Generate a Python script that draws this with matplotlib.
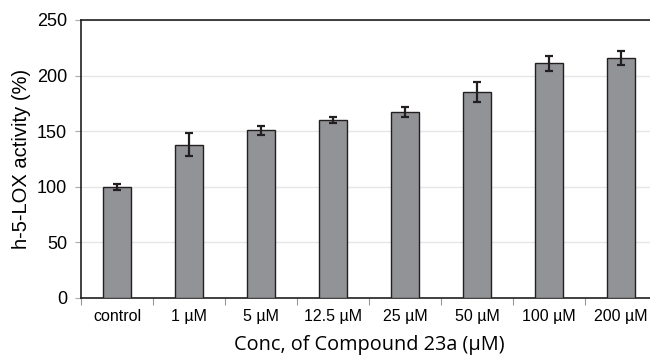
import matplotlib.pyplot as plt
import numpy as np

# ── data ───────────────────────────────────────────────────────────────────
categories = ["control", "1 µM", "5 µM", "12.5 µM", "25 µM", "50 µM", "100 µM", "200 µM"]
activity = [100, 138, 151, 160, 167, 185, 211, 216]
errors = [2.5, 10, 4, 2.5, 4.5, 9, 7, 6.5]
y_ticks = [0, 50, 100, 150, 200, 250]

plt.rcParams["font.family"] = ["Liberation Sans", "DejaVu Sans"]

fig = plt.figure(figsize=(6.5, 3.59), dpi=100)
# axes spills slightly past the right edge, like the original crop
ax = fig.add_axes([81 / 650, 1 - 298 / 359, 576 / 650, 278 / 359])

x = np.arange(len(categories))
ax.bar(x, activity, width=0.4, color="#929397", edgecolor="#231f20",
       linewidth=1.0, zorder=3)
ax.errorbar(x, activity, yerr=errors, fmt="none", ecolor="#231f20",
            elinewidth=1.6, capsize=3, capthick=1.6, zorder=4)

ax.set_xlim(-0.5, len(categories) - 0.5)
ax.set_ylim(0, 250)
ax.set_yticks(y_ticks)
ax.yaxis.grid(True, color="#e6e6e6", linewidth=1, zorder=0)
ax.set_axisbelow(True)

# category labels between boundary ticks
ax.set_xticks(np.arange(len(categories) + 1) - 0.5)
ax.set_xticklabels([])
ax.set_xticks(x, minor=True)
ax.set_xticklabels(categories, minor=True, fontsize=11.5)
ax.tick_params(axis="x", which="major", length=5, color="#999999")
ax.tick_params(axis="x", which="minor", length=0, pad=8)
ax.tick_params(axis="y", length=4, color="#aaaaaa", labelsize=13, pad=6)

for side in ("left", "bottom", "top", "right"):
    ax.spines[side].set_color("#231f20")
    ax.spines[side].set_linewidth(1.2)

ax.set_xlabel("Conc, of Compound 23a (µM)", fontsize=14.3,
              family=["Open Sans", "DejaVu Sans"], labelpad=8)
ax.set_ylabel("h-5-LOX activity (%)", fontsize=14.5, labelpad=4)

plt.savefig("out.png", dpi=100)
plt.close()
